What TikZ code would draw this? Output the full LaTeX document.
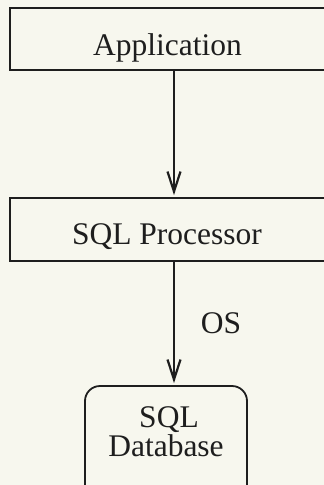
\documentclass[tikz,border=0pt]{standalone}
\usepackage{fontspec}
\setmainfont{Liberation Serif}
\usetikzlibrary{arrows.meta}

\definecolor{paper}{RGB}{247,247,238}
\definecolor{ink}{RGB}{30,30,30}

\begin{document}
\begin{tikzpicture}[x=1pt,y=1pt,yscale=-1,xscale=1,
  layerbox/.style={draw=ink,line width=1.8pt,inner sep=0pt,rectangle},
  dbbox/.style={draw=ink,line width=1.8pt,inner sep=0pt,rectangle,rounded corners=15pt},
  lbl/.style={anchor=base,inner sep=0pt,text=ink,font=\fontsize{31.5}{35}\selectfont},
  flow/.style={draw=ink,line width=1.4pt,-{Straight Barb[length=20pt,width=13pt,line width=2.2pt]},shorten >=2pt}]
%set diagram area and paper
\useasboundingbox (0,0) rectangle (324,485);
\fill[paper] (0,0) rectangle (324,485);
\clip (0,0) rectangle (324,485);

%Shape: Rectangles
\node[layerbox,minimum width=330pt,minimum height=62pt] (app) at (175,39) {};
\node[layerbox,minimum width=330pt,minimum height=63pt] (proc) at (175,229.5) {};
%Shape: Rounded Rect
\node[dbbox,minimum width=162pt,minimum height=120pt] (db) at (166,446) {};

% Text Node
\node[lbl] (apptext) at (167.5,55) {Application};
\node[lbl] (proctext) at (167,244) {SQL Processor};
\node[lbl] (ostext) at (221,333) {OS};
\node[lbl] (dbtext1) at (169,427) {SQL};
\node[lbl] (dbtext2) at (166,456) {Database};

%Straight Lines
\coordinate (axis) at (174,0);
\draw[flow] (app.south -| axis) -- (proc.north -| axis);
\draw[flow] (proc.south -| axis) -- (db.north -| axis);

\end{tikzpicture}
\end{document}
